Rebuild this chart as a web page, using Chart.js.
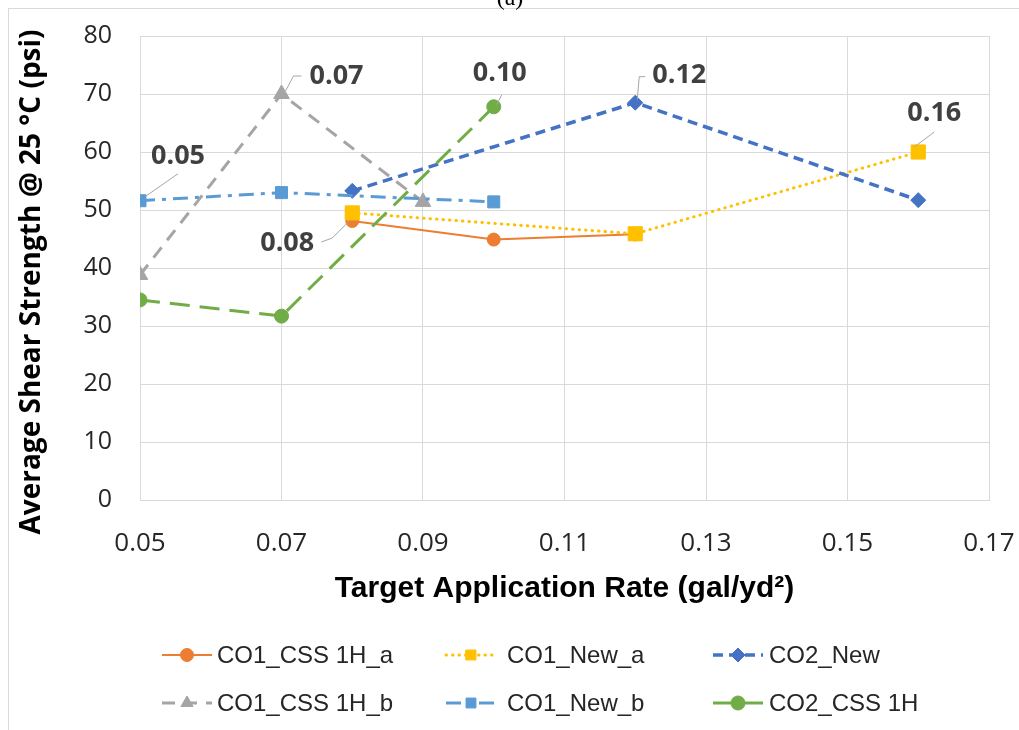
<!DOCTYPE html>
<html>
<head>
<meta charset="utf-8">
<script src="https://cdn.jsdelivr.net/npm/chart.js@4/dist/chart.umd.min.js"></script>
<style>
    html, body { margin: 0; padding: 0; background: #ffffff; }
    #wrap { width: 1019px; height: 730px; position: relative; }
</style>
</head>
<body>
<div id="wrap"><canvas id="shearChart" width="1019" height="730"></canvas></div>
<script>
// Average shear strength vs target application rate

const seriesNames = ['CO1_CSS 1H_a', 'CO1_New_a', 'CO2_New', 'CO1_CSS 1H_b', 'CO1_New_b', 'CO2_CSS 1H'];

const co1CssA_x = [0.08, 0.10, 0.12];
const co1CssA_y = [48.1, 44.9, 45.8];

const co1NewA_x = [0.08, 0.12, 0.16];
const co1NewA_y = [49.5, 45.9, 60.0];

const co2New_x = [0.08, 0.12, 0.16];
const co2New_y = [53.3, 68.5, 51.7];

const co1CssB_x = [0.05, 0.07, 0.09];
const co1CssB_y = [38.8, 70.0, 51.4];

const co1NewB_x = [0.05, 0.07, 0.10];
const co1NewB_y = [51.6, 53.0, 51.4];

const co2Css_x = [0.05, 0.07, 0.10];
const co2Css_y = [34.5, 31.7, 67.8];

const xTicks = [0.05, 0.07, 0.09, 0.11, 0.13, 0.15, 0.17];
const xTickLabels = ['0.05', '0.07', '0.09', '0.11', '0.13', '0.15', '0.17'];
const yTicks = [0, 10, 20, 30, 40, 50, 60, 70, 80];

const yTitle = 'Average Shear Strength @ 25 °C (psi)';
const xTitle = 'Target Application Rate (gal/yd²)';

// data labels: which series / point, and the text shown
const labelSeries = [4, 3, 5, 2, 1, 0];
const labelPoint  = [0, 1, 2, 1, 2, 0];
const labelText   = ['0.05', '0.07', '0.10', '0.12', '0.16', '0.08'];

function pts(xs, ys) {
    return xs.map((x, i) => ({ x: x, y: ys[i] }));
}

const styles = [
    { color: '#ED7D31', dash: [], width: 2, point: 'circle', radius: 6.5, cap: 'butt' },
    { color: '#FFC000', dash: [0.5, 6], width: 3, point: 'rect', radius: 10, cap: 'round' },
    { color: '#4472C4', dash: [10, 6], width: 3.5, point: 'rectRot', radius: 7.5, cap: 'butt' },
    { color: '#A5A5A5', dash: [13, 9], width: 3, point: 'triangle', radius: 9, cap: 'butt' },
    { color: '#5B9BD5', dash: [15, 7, 4, 7], width: 3, point: 'rect', radius: 8.5, cap: 'butt' },
    { color: '#70AD47', dash: [20, 10], width: 3, point: 'circle', radius: 7, cap: 'butt' }
];

const allData = [
    pts(co1CssA_x, co1CssA_y),
    pts(co1NewA_x, co1NewA_y),
    pts(co2New_x, co2New_y),
    pts(co1CssB_x, co1CssB_y),
    pts(co1NewB_x, co1NewB_y),
    pts(co2Css_x, co2Css_y)
];

const datasets = seriesNames.map((name, i) => ({
    label: name,
    data: allData[i],
    borderColor: styles[i].color,
    backgroundColor: styles[i].color,
    borderWidth: styles[i].width,
    borderDash: styles[i].dash,
    borderCapStyle: styles[i].cap,
    pointStyle: styles[i].point,
    pointRadius: styles[i].radius,
    pointHoverRadius: styles[i].radius,
    pointBorderWidth: 1,
    pointBackgroundColor: styles[i].color,
    pointBorderColor: styles[i].color,
    tension: 0,
    fill: false,
    order: seriesNames.length - 1 - i   // later series on top, like Excel
}));

// leader-line offsets for the data labels (label anchor relative to point)
const labelLayout = [
    { lead: [[5, -4], [38, -27]], tx: 38, ty: -44, align: 'center' },
    { lead: [[4, -3], [12, -18], [20, -18]], tx: 28, ty: -18, align: 'left' },
    { lead: [[3, -2], [8, -12]], tx: 6, ty: -33, align: 'center' },
    { lead: [[2, -3], [4, -26], [10, -26]], tx: 17, ty: -27, align: 'left' },
    { lead: [[-4, -5], [16, -20]], tx: 16, ty: -39, align: 'center' },
    { lead: [[-3, 0], [-20, 17], [-31, 21]], tx: -38, ty: 22, align: 'right' }
];

const dataLabelPlugin = {
    id: 'dataLabels',
    afterDatasetsDraw(chart) {
        const ctx = chart.ctx;
        ctx.save();
        labelText.forEach((txt, k) => {
            const ds = chart.data.datasets[labelSeries[k]];
            const p = ds.data[labelPoint[k]];
            const px = chart.scales.x.getPixelForValue(p.x);
            const py = chart.scales.y.getPixelForValue(p.y);
            const lay = labelLayout[k];
            ctx.strokeStyle = '#A6A6A6';
            ctx.lineWidth = 1;
            ctx.setLineDash([]);
            ctx.beginPath();
            lay.lead.forEach((o, j) => {
                if (j === 0) ctx.moveTo(px + o[0], py + o[1]);
                else ctx.lineTo(px + o[0], py + o[1]);
            });
            ctx.stroke();
            ctx.fillStyle = '#404040';
            ctx.font = 'bold 27px "Open Sans", "Liberation Sans", sans-serif';
            ctx.textAlign = lay.align;
            ctx.textBaseline = 'middle';
            ctx.fillText(txt, px + lay.tx, py + lay.ty);
        });
        ctx.restore();
    }
};

// Excel-style legend in a 3 x 2 grid
const legendCols = [162, 446, 713];
const legendTextGap = [5, 11, 6];
const legendRows = [655, 703];

const legendPlugin = {
    id: 'gridLegend',
    afterDraw(chart) {
        const ctx = chart.ctx;
        ctx.save();
        chart.data.datasets.forEach((ds, i) => {
            const x0 = legendCols[i % 3];
            const y0 = legendRows[Math.floor(i / 3)];
            const sw = 50;
            ctx.strokeStyle = ds.borderColor;
            ctx.lineWidth = ds.borderWidth;
            ctx.lineCap = ds.borderCapStyle;
            ctx.setLineDash(ds.borderDash);
            ctx.beginPath();
            ctx.moveTo(x0, y0);
            ctx.lineTo(x0 + sw, y0);
            ctx.stroke();
            ctx.setLineDash([]);
            ctx.fillStyle = ds.pointBackgroundColor;
            ctx.strokeStyle = ds.pointBorderColor;
            ctx.lineWidth = 1;
            Chart.helpers.drawPoint(ctx, {
                pointStyle: ds.pointStyle,
                radius: Math.min(ds.pointRadius, 7),
                rotation: 0,
                borderWidth: 1
            }, x0 + sw / 2, y0);
            ctx.fillStyle = '#262626';
            ctx.font = '24px "Liberation Sans", Arial, sans-serif';
            ctx.textAlign = 'left';
            ctx.textBaseline = 'middle';
            ctx.fillText(ds.label, x0 + sw + legendTextGap[i % 3], y0 + 1);
        });
        ctx.restore();
    }
};

const framePlugin = {
    id: 'frame',
    beforeDraw(chart) {
        const ctx = chart.ctx;
        ctx.save();
        ctx.fillStyle = '#ffffff';
        ctx.fillRect(0, 0, chart.width, chart.height);
        ctx.strokeStyle = '#D9D9D9';
        ctx.lineWidth = 1;
        ctx.strokeRect(8.5, 8.5, chart.width + 20, chart.height + 20);
        ctx.fillStyle = '#000000';
        ctx.font = '24px "Liberation Serif", serif';
        ctx.textAlign = 'center';
        ctx.textBaseline = 'alphabetic';
        ctx.fillText('(a)', 510, 5);
        ctx.restore();
    },
    afterDraw(chart) {
        // vertical axis title, centred a little below the plot centre as in the original
        const ctx = chart.ctx;
        ctx.save();
        ctx.translate(32, 282);
        ctx.rotate(-Math.PI / 2);
        ctx.fillStyle = '#000000';
        ctx.font = 'bold 28px "Open Sans", sans-serif';
        ctx.textAlign = 'center';
        ctx.textBaseline = 'middle';
        ctx.fillText(yTitle, 0, 0);
        ctx.restore();
    }
};

const ctx = document.getElementById('shearChart').getContext('2d');

const shearChart = new Chart(ctx, {
    type: 'line',
    data: { datasets: datasets },
    plugins: [framePlugin, dataLabelPlugin, legendPlugin],
    options: {
        responsive: false,
        animation: false,
        layout: {
            padding: { left: 8, top: 36, right: 30, bottom: 123 }
        },
        plugins: {
            legend: { display: false },
            tooltip: { enabled: false }
        },
        scales: {
            x: {
                type: 'linear',
                min: 0.05,
                max: 0.17,
                afterBuildTicks: function(scale) {
                    scale.ticks = xTicks.map(v => ({ value: v }));
                },
                afterFit: function(scale) {
                    scale.height = 107;
                    scale.paddingLeft = 0;
                    scale.paddingRight = 0;
                },
                grid: { color: '#D9D9D9', lineWidth: 1, drawTicks: false },
                border: { color: '#D9D9D9' },
                ticks: {
                    padding: 28,
                    color: '#262626',
                    maxRotation: 0,
                    font: { family: '"Open Sans", sans-serif', size: 26 },
                    callback: function(value, index) {
                        return xTickLabels[index];
                    }
                },
                title: {
                    display: true,
                    text: xTitle,
                    color: '#000000',
                    padding: { top: 0, bottom: 0 },
                    font: { family: '"Liberation Sans Narrow", "Liberation Sans", Arial, sans-serif', size: 30, weight: 'bold' }
                }
            },
            y: {
                min: 0,
                max: 80,
                afterBuildTicks: function(scale) {
                    scale.ticks = yTicks.map(v => ({ value: v }));
                },
                afterFit: function(scale) {
                    scale.width = 132;
                    scale.paddingTop = 0;
                    scale.paddingBottom = 0;
                },
                grid: { color: '#D9D9D9', lineWidth: 1, drawTicks: false },
                border: { color: '#D9D9D9' },
                ticks: {
                    padding: 28,
                    color: '#262626',
                    font: { family: '"Open Sans", sans-serif', size: 25 }
                },
                title: { display: false }
            }
        }
    }
});
</script>
</body>
</html>
